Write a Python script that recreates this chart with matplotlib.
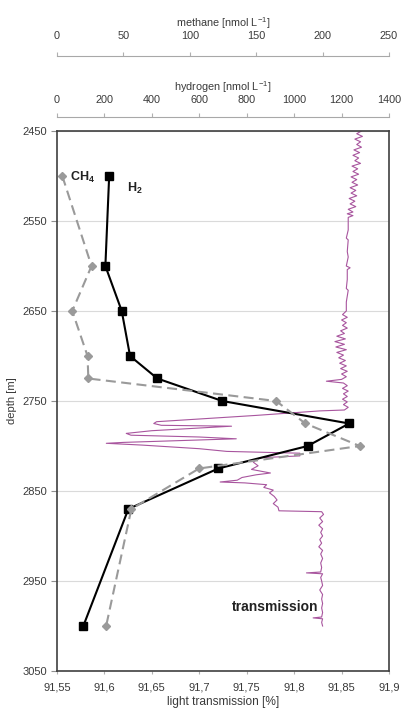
import matplotlib
matplotlib.use('Agg')
import matplotlib.pyplot as plt

plt.rcParams['font.family'] = ['Liberation Sans', 'DejaVu Sans']
plt.rcParams['mathtext.fontset'] = 'custom'
plt.rcParams['mathtext.rm'] = 'Liberation Sans'
plt.rcParams['mathtext.bf'] = 'Liberation Sans:bold'

# ---------------- data ----------------
sample_depth = [2500, 2600, 2650, 2700, 2725, 2750, 2775, 2800, 2825, 2870, 3000]
hydrogen = [220, 204, 273, 308, 423, 697, 1232, 1057, 680, 301, 111]
methane = [4, 26, 11.5, 23, 23.6, 165, 187, 228, 107, 56, 37]

trans_depth = [
    2450, 2453, 2456, 2459, 2462, 2465, 2468, 2471, 2474, 2477, 2480, 2483, 2486, 2489,
    2492, 2495, 2498, 2501, 2504, 2507, 2510, 2513, 2516, 2519, 2522, 2525, 2528, 2531,
    2534, 2537, 2540, 2542, 2544, 2546,
    2550, 2560, 2569, 2571, 2584, 2590, 2600, 2602, 2604, 2615, 2625, 2627, 2640, 2650,
    2654, 2657, 2660, 2663, 2666, 2669, 2672, 2675, 2678, 2681, 2684, 2687, 2690, 2693,
    2696, 2699, 2702, 2705, 2708, 2711, 2714, 2717, 2720, 2723, 2726, 2728, 2730, 2733,
    2736, 2739, 2742, 2745, 2748, 2751, 2754, 2757, 2760,
    2761, 2766, 2770, 2773, 2775, 2777, 2778, 2780, 2783, 2786, 2788, 2790, 2792, 2794,
    2796, 2797, 2799, 2803, 2806, 2808, 2811, 2813, 2815, 2818, 2822, 2826, 2830, 2832,
    2835, 2838, 2840, 2841, 2843, 2846, 2849, 2852, 2856, 2860, 2864, 2868, 2872, 2873,
    2876, 2880, 2884, 2888, 2892, 2896, 2900, 2904, 2908, 2912, 2916, 2920, 2925, 2930,
    2935, 2940, 2941, 2942, 2946, 2950, 2955, 2960, 2965, 2970, 2975, 2980, 2985, 2990,
    2991, 2992, 2996, 3000,
]
transmission = [
    91.871, 91.866, 91.872, 91.864, 91.870, 91.866, 91.871, 91.863, 91.869, 91.862, 91.868,
    91.864, 91.870, 91.861, 91.867, 91.862, 91.868, 91.860, 91.866, 91.861, 91.867, 91.859,
    91.865, 91.860, 91.866, 91.858, 91.864, 91.859, 91.865, 91.857, 91.862, 91.856, 91.862,
    91.857,
    91.857, 91.857, 91.855, 91.857, 91.856, 91.857, 91.855, 91.859, 91.856, 91.856, 91.855,
    91.857, 91.855, 91.855,
    91.851, 91.856, 91.850, 91.855, 91.851, 91.856, 91.849, 91.853, 91.845, 91.854, 91.843,
    91.853, 91.844, 91.855, 91.845, 91.852, 91.847, 91.854, 91.848, 91.855, 91.849, 91.856,
    91.850, 91.855, 91.850, 91.834, 91.852, 91.856, 91.851, 91.857, 91.852, 91.856, 91.851,
    91.856, 91.852, 91.857, 91.853,
    91.827, 91.760, 91.700, 91.655, 91.652, 91.660, 91.734, 91.700, 91.650, 91.623, 91.628,
    91.700, 91.739, 91.680, 91.620, 91.602, 91.640, 91.700, 91.729, 91.806, 91.806, 91.765,
    91.760, 91.757, 91.762, 91.755, 91.775, 91.760, 91.745, 91.740, 91.722, 91.748, 91.771,
    91.768, 91.778, 91.774, 91.779, 91.782, 91.778, 91.783, 91.784, 91.829,
    91.831, 91.827, 91.830, 91.826, 91.830, 91.828, 91.830, 91.827, 91.829, 91.826, 91.830,
    91.828, 91.830, 91.828, 91.829, 91.828, 91.813, 91.830, 91.828, 91.829, 91.830, 91.827,
    91.830, 91.829, 91.830, 91.829, 91.830, 91.829, 91.820, 91.830, 91.829, 91.830,
]

depth_ticks = [2450, 2550, 2650, 2750, 2850, 2950, 3050]
depth_labels = ['2450', '2550', '2650', '2750', '2850', '2950', '3050']
trans_ticks = [91.55, 91.6, 91.65, 91.7, 91.75, 91.8, 91.85, 91.9]
trans_labels = ['91,55', '91,6', '91,65', '91,7', '91,75', '91,8', '91,85', '91,9']
h2_ticks = [0, 200, 400, 600, 800, 1000, 1200, 1400]
ch4_ticks = [0, 50, 100, 150, 200, 250]

# ---------------- figure ----------------
W, H = 403, 713
fig = plt.figure(figsize=(W / 100, H / 100), dpi=100)
ax = fig.add_axes([57 / W, 42 / H, 332 / W, 540 / H])

txt_col = '#3a3a3a'
ax.plot(transmission, trans_depth, color='#a8559e', lw=0.8, zorder=2)
ax.set_xlim(91.55, 91.9)
ax.set_ylim(3050, 2450)
ax.set_xticks(trans_ticks)
ax.set_xticklabels(trans_labels)
ax.set_yticks(depth_ticks)
ax.set_yticklabels(depth_labels)
ax.yaxis.grid(True, color='#dadada', lw=0.8)
ax.set_axisbelow(True)
for s in ax.spines.values():
    s.set_color('#404040')
    s.set_linewidth(1.2)
ax.tick_params(axis='x', length=2, color='#b0b0b0', pad=6, labelsize=8, labelcolor=txt_col)
ax.tick_params(axis='y', length=4, color='#909090', pad=3, labelsize=8, labelcolor=txt_col)
ax.set_xlabel('light transmission [%]', fontsize=8.6, color=txt_col, labelpad=3)
ax.set_ylabel('depth [m]', fontsize=8, color=txt_col, labelpad=4)

ax.text(91.5637, 2502, 'CH$_\\mathbf{4}$', fontsize=9, fontweight='bold', ha='left', va='center', color='#222222')
ax.text(91.6238, 2514, 'H$_\\mathbf{2}$', fontsize=9, fontweight='bold', ha='left', va='center', color='#222222')
ax.text(91.7345, 2979, 'transmission', fontsize=10, fontweight='bold', ha='left', va='center', color='#222222')

# hydrogen axis
ax_h = ax.twiny()
ax_h.plot(hydrogen, sample_depth, color='black', lw=1.5, marker='s', ms=6, mfc='black', mec='black', zorder=4)
ax_h.set_xlim(0, 1400)
ax_h.set_ylim(3050, 2450)
for k in ['bottom', 'left', 'right']:
    ax_h.spines[k].set_visible(False)
ax_h.spines['top'].set_position(('outward', 10))
ax_h.spines['top'].set_color('#a8a8a8')
ax_h.spines['top'].set_linewidth(0.8)
ax_h.set_xticks(h2_ticks)
ax_h.tick_params(axis='x', length=3, color='#b0b0b0', pad=5.5, labelsize=7.8, labelcolor=txt_col)
ax_h.set_xlabel('hydrogen [nmol L$^{-1}$]', fontsize=7.8, color=txt_col, labelpad=3)

# methane axis
ax_m = ax.twiny()
ax_m.plot(methane, sample_depth, color='#9a9a9a', lw=1.5, dashes=(4.8, 2.6), marker='D', ms=4.2,
          mfc='#9a9a9a', mec='#9a9a9a', zorder=3)
ax_m.set_xlim(0, 250)
ax_m.set_ylim(3050, 2450)
for k in ['bottom', 'left', 'right']:
    ax_m.spines[k].set_visible(False)
ax_m.spines['top'].set_position(('outward', 54))
ax_m.spines['top'].set_color('#a8a8a8')
ax_m.spines['top'].set_linewidth(0.8)
ax_m.set_xticks(ch4_ticks)
ax_m.tick_params(axis='x', length=3, color='#b0b0b0', pad=8, labelsize=7.8, labelcolor=txt_col)
ax_m.set_xlabel('methane [nmol L$^{-1}$]', fontsize=7.8, color=txt_col, labelpad=3)

fig.savefig('out.png', dpi=100)
